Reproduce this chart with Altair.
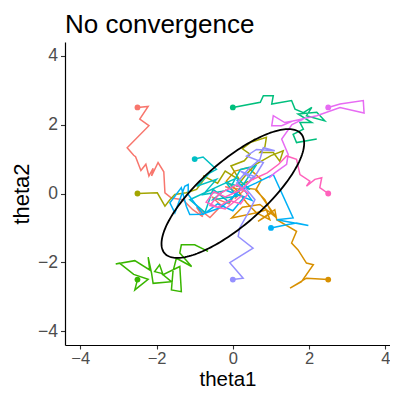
import altair as alt
import numpy as np
import pandas as pd

chain_names = [f"chain{i}" for i in range(1, 11)]
chain_colors = ["#F8766D", "#D89000", "#A3A500", "#39B600", "#00BF7D",
                "#00BFC4", "#00B0F6", "#9590FF", "#E76BF3", "#FF62BC"]

chain1_x = [-2.50, -2.22, -2.44, -2.20, -2.77, -2.60, -2.55, -2.41, -2.28, -2.20, -2.09, -2.13, -1.96, -1.81,
            -1.78, -1.61, -1.31, -1.05, -0.79, -0.95, -0.60, -0.30, -0.55, -0.10, 0.10, -0.20, 0.30, 0.05]
chain1_y = [2.50, 2.53, 2.16, 1.97, 1.33, 1.11, 1.07, 0.67, 0.85, 0.51, 0.73, 0.51, 0.90, 0.63,
            0.02, -0.13, -0.18, -0.47, -0.67, -0.40, -0.70, -0.35, -0.10, -0.30, 0.05, 0.20, 0.10, -0.15]

chain2_x = [2.50, 1.93, 1.50, 1.80, 2.11, 1.93, 1.71, 1.54, 1.67, 1.15, 1.10, 0.66, 1.02, 0.84, 0.60, 0.75,
            0.40, 0.23, 0.05, -0.17, 0.15, 0.36, 0.62, 0.88, 0.97, 0.62, -0.03, 0.25, 0.71, 1.15, 0.62, 0.35]
chain2_y = [-2.50, -2.46, -2.75, -2.56, -2.07, -2.02, -1.64, -1.44, -1.10, -0.76, -0.47, -0.81, -0.56, -0.18, 0.10, 0.40,
            0.75, 0.70, 0.65, 0.36, 0.05, -0.27, -0.56, -0.47, -0.76, -0.56, -0.71, -0.40, -0.32, -0.71, 0.12, 0.15]

chain3_x = [-2.50, -1.98, -1.78, -1.65, -1.52, -1.22, -0.95, -0.69, -0.78, -0.40, -0.20, 0.18, -0.05, 0.30, 0.45, 0.25,
            0.58, 0.45, 0.88, 0.84, 0.71, 1.06, 1.23, 1.32, 1.00, 0.60, 0.35, 0.10, 0.40]
chain3_y = [0.00, 0.02, -0.37, -0.18, -0.03, 0.02, 0.12, 0.51, 0.51, 0.30, 0.65, 0.39, 0.80, 0.95, 1.14, 1.30,
            1.58, 1.48, 1.63, 1.35, 1.19, 1.19, 0.94, 1.24, 1.10, 0.85, 0.55, 0.20, 0.35]

chain4_x = [-2.50, -2.57, -2.22, -2.60, -2.97, -3.07, -2.57, -2.18, -2.22, -2.13, -2.09, -1.61, -1.87, -2.05,
            -1.92, -1.83, -1.39, -1.35, -1.61, -1.57, -1.48, -1.08, -1.39, -1.35, -1.00, -0.65]
chain4_y = [-2.50, -2.80, -2.49, -2.35, -2.02, -2.05, -1.95, -2.22, -1.85, -2.32, -2.61, -2.56, -2.32, -2.27,
            -2.07, -2.36, -2.12, -2.85, -2.80, -2.27, -1.88, -2.12, -1.73, -1.49, -1.49, -1.68]

chain5_x = [0.00, 0.72, 0.80, 1.06, 1.02, 1.54, 1.63, 1.85, 2.07, 1.93, 2.41, 2.20, 1.71, 2.07, 1.76, 1.85,
            1.58, 1.67, 2.20]
chain5_y = [2.50, 2.65, 2.84, 2.84, 2.60, 2.70, 2.45, 2.35, 2.50, 2.26, 2.11, 2.36, 2.31, 2.06, 2.06, 1.87,
            1.72, 1.48, 1.58]

chain6_x = [-1.00, -0.78, -0.43, -0.60, -0.95, -0.43, -0.78, -0.25, -0.52, 0.10, -0.17, 0.45, 0.10, -0.30,
            -1.13, -0.73, -0.52, -0.10, 0.30, 0.60, 0.20, -0.05]
chain6_y = [1.00, 1.06, 0.70, 0.60, 0.21, 0.41, -0.03, 0.07, -0.18, -0.08, 0.31, 0.12, 0.45, 0.25,
            -0.18, -0.55, 0.12, -0.25, 0.30, 0.80, 0.70, 0.20]

chain7_x = [1.00, 1.41, 1.67, 1.98, 1.15, 1.58, 1.06, 0.60, 0.20, -0.30, -0.80, -1.13, -1.22, -1.35, -1.52,
            -1.65, -1.52, -1.26, -1.17, -1.17, -0.78, -0.40, 0.00, 0.30, -0.20, 0.50, 0.10]
chain7_y = [-1.00, -0.91, -0.86, -0.93, -0.76, -0.71, 0.55, 0.30, 0.10, -0.40, -0.60, -0.61, -0.37, 0.17, -0.08,
            -0.27, -0.56, 0.21, 0.26, -0.03, -0.61, -0.30, -0.50, -0.10, 0.10, -0.20, 0.40]

chain8_x = [0.00, 0.27, -0.08, 0.53, 0.14, 0.18, 0.45, 0.58, 0.30, 0.55, 0.20, 0.53, 0.80, 0.36, 0.62,
            1.10, 0.80, 0.71, 0.40, 0.10, 0.35]
chain8_y = [-2.50, -2.46, -2.01, -1.59, -1.25, -1.00, -0.47, -0.18, 0.20, 0.50, 0.65, 0.41, 0.90, 1.09, 1.28,
            1.24, 1.33, 0.99, 0.70, 0.30, 0.05]

chain9_x = [2.50, 2.81, 3.42, 3.44, 2.81, 2.20, 1.58, 1.28, 1.02, 1.06, 1.36, 1.85, 1.55, 1.28, 1.45, 1.41,
            1.10, 0.95]
chain9_y = [2.50, 2.60, 2.70, 2.34, 2.50, 2.26, 2.11, 1.97, 1.97, 2.26, 2.06, 2.16, 2.00, 1.58, 1.14, 0.85,
            0.60, 0.45]

chain10_x = [2.50, 2.28, 2.33, 2.15, 1.93, 2.02, 1.76, 1.67, 1.41, 1.20, 0.90, 0.50, 0.20, -0.20, -0.50,
             -0.70, -0.40, -0.10, 0.20, 0.40, 0.10, -0.35, -0.60, -0.20, 0.25]
chain10_y = [0.00, 0.17, 0.46, 0.41, 0.21, 0.36, 0.55, 0.99, 1.09, 0.85, 0.60, 0.40, 0.10, -0.10, 0.05,
             -0.25, -0.40, -0.20, -0.30, 0.00, 0.25, 0.00, -0.35, -0.45, -0.05]

chains_x = [chain1_x, chain2_x, chain3_x, chain4_x, chain5_x, chain6_x, chain7_x, chain8_x, chain9_x, chain10_x]
chains_y = [chain1_y, chain2_y, chain3_y, chain4_y, chain5_y, chain6_y, chain7_y, chain8_y, chain9_y, chain10_y]

# target density contour (correlated bivariate normal)
ellipse_scale = 1.87
ellipse_rho = 0.78

rows = []
for name, xs, ys in zip(chain_names, chains_x, chains_y):
    for i, (xv, yv) in enumerate(zip(xs, ys)):
        rows.append({"chain": name, "step": i, "theta1": xv, "theta2": yv})
df = pd.DataFrame(rows)
starts = df[df["step"] == 0]

t = np.linspace(0, 2 * np.pi, 181)
ell = pd.DataFrame({
    "k": np.arange(len(t)),
    "theta1": ellipse_scale * np.cos(t),
    "theta2": ellipse_scale * (ellipse_rho * np.cos(t) + np.sqrt(1 - ellipse_rho ** 2) * np.sin(t)),
})

xscale = alt.Scale(domain=[-4.4, 4.12], nice=False, zero=False)
yscale = alt.Scale(domain=[-4.4, 4.4], nice=False, zero=False)
xaxis = alt.Axis(values=[-4, -2, 0, 2, 4], title="theta1", grid=False)
yaxis = alt.Axis(values=[-4, -2, 0, 2, 4], title="theta2", grid=False)
color = alt.Color("chain:N", scale=alt.Scale(domain=chain_names, range=chain_colors), legend=None)

lines = alt.Chart(df).mark_line(strokeWidth=1.5, clip=True).encode(
    x=alt.X("theta1:Q", scale=xscale, axis=xaxis),
    y=alt.Y("theta2:Q", scale=yscale, axis=yaxis),
    color=color,
    detail="chain:N",
    order="step:Q",
)
points = alt.Chart(starts).mark_circle(size=34, opacity=1).encode(
    x="theta1:Q", y="theta2:Q", color=color,
)
ellipse = alt.Chart(ell).mark_line(color="black", strokeWidth=1.8).encode(
    x="theta1:Q", y="theta2:Q", order="k:Q",
)

chart = alt.layer(lines, points, ellipse).properties(
    width=325, height=303,
    title=alt.TitleParams("No convergence", anchor="start", frame="group", fontSize=26,
                          font="Liberation Sans", fontWeight="normal", color="black", offset=4.5),
    autosize=alt.AutoSizeParams(type="none"),
    padding={"left": 57, "top": 34, "right": 0, "bottom": 45},
).configure_view(stroke=None).configure_axis(
    domainColor="black", domainWidth=1.2, tickColor="#333333", tickWidth=1.1,
    labelColor="#4D4D4D", labelFont="Liberation Sans",
    titleFont="Liberation Sans", titleFontWeight="normal", titleColor="black",
).configure_axisX(
    tickSize=4, titlePadding=2.3, labelPadding=1.5, labelFontSize=16.5, titleFontSize=20.5,
).configure_axisY(
    tickSize=4.5, titlePadding=4, labelPadding=3, labelFontSize=17.5, titleFontSize=22,
)

chart.save("out.html", embed_options={"renderer": "svg", "actions": False})
